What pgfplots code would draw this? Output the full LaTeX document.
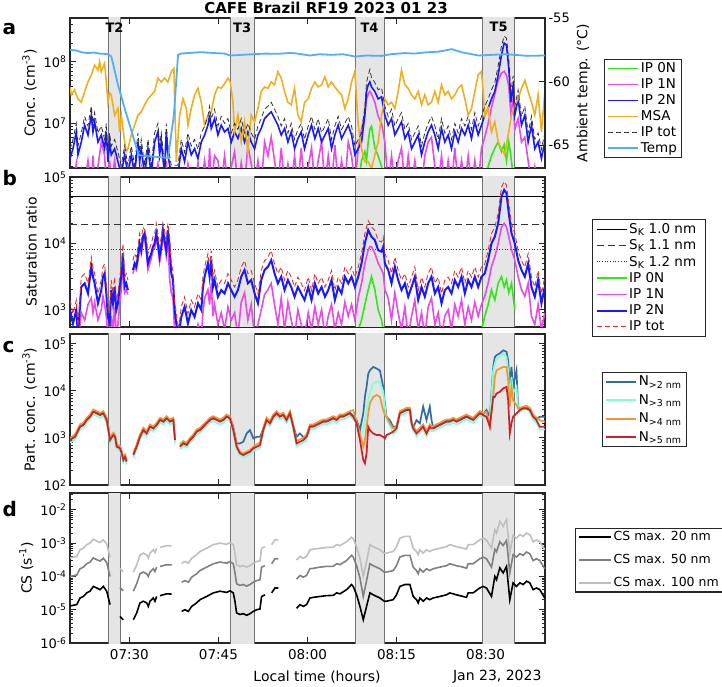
\documentclass[border=0pt]{standalone}
\usepackage{fontspec}
\setmainfont{DejaVu Sans}
\usepackage{pgfplots}
\usepackage{pgfplotstable}
\pgfplotsset{compat=1.18}

\definecolor{cip0}{rgb}{0.2,0.9,0.1}
\definecolor{cip1}{rgb}{0.9,0.3,0.9}
\definecolor{cip2}{rgb}{0.1,0.1,1.0}
\definecolor{cmsa}{rgb}{0.93,0.69,0.13}
\definecolor{ctemp}{rgb}{0.33,0.68,0.98}
\definecolor{ctotb}{rgb}{0.85,0.2,0.2}
\definecolor{cn2}{rgb}{0.2,0.42,0.65}
\definecolor{cn3}{rgb}{0.5,1.0,0.85}
\definecolor{cn4}{rgb}{0.93,0.6,0.2}
\definecolor{cn5}{rgb}{0.8,0.13,0.17}
\definecolor{shadefill}{rgb}{0.9,0.9,0.9}
\definecolor{shadeedge}{rgb}{0.45,0.45,0.45}

\newcommand{\tickfont}{\fontsize{13}{14}\selectfont}
\newcommand{\labfont}{\fontsize{14}{16}\selectfont}
\newcommand{\legfont}{\fontsize{13.5}{15}\selectfont}
\newcommand{\lb}[1]{\makebox[72pt][l]{#1}}

\newcommand{\shadeband}[4]{%
  \addplot[fill=shadefill, draw=none, forget plot] coordinates {(#1,#3) (#2,#3) (#2,#4) (#1,#4)};
  \addplot[shadeedge, line width=0.8pt, forget plot] coordinates {(#1,#3) (#1,#4)};
  \addplot[shadeedge, line width=0.8pt, forget plot] coordinates {(#2,#3) (#2,#4)};
}
\newcommand{\allbands}[2]{%
  \shadeband{26.45}{28.5}{#1}{#2}
  \shadeband{47.05}{51.0}{#1}{#2}
  \shadeband{68.0}{72.9}{#1}{#2}
  \shadeband{89.5}{94.9}{#1}{#2}
}

\pgfplotsset{
  /pgfplots/logtick/.style={
    /pgfplots/log number format basis/.code 2 args={##1\textsuperscript{\pgfmathprintnumber[assume math mode=true]{##2}}},
  },
  /pgfplots/mypanel/.style={
    width=475pt, height=150pt, scale only axis,
    xmin=20, xmax=100, xtick={30,45,60,75,90},
    tick align=inside,
    major tick length=6pt, minor tick length=3pt,
    axis line style={line width=1.1pt, black!85},
    every tick/.style={black!85, line width=0.8pt},
    tick label style={font=\tickfont},
    label style={font=\labfont},
    unbounded coords=jump,
    legend cell align=left,
    legend style={font=\legfont, draw=black!85, line width=1.1pt, anchor=west,
      inner xsep=3pt, inner ysep=2pt, row sep=1.3pt, nodes={inner sep=1.6pt}},
    legend image code/.code={\draw[##1] (0pt,0pt) -- (30pt,0pt);},
    xticklabels={},
  },
}

% ---------------- panel a data ----------------
\pgfplotstableread{
t ip2 tot ip1 ip0
20.0 2.7e6 3.8e6 1e6 nan
20.5 3.9e6 5.5e6 1e6 nan
21.06 7.3e6 1.0e7 2.2e6 nan
21.34 3.1e6 4.3e6 1e6 nan
21.9 5.0e6 7.0e6 1.8e6 nan
22.47 9.4e6 1.3e7 1e6 nan
23.03 6.5e6 9.1e6 2.5e6 nan
23.59 1.36e7 1.9e7 1e6 nan
23.87 7.3e6 1.0e7 3e6 nan
24.15 1.06e7 1.5e7 1e6 nan
24.71 5.0e6 7.0e6 2e6 nan
25.27 6.5e6 9.1e6 5e6 nan
25.83 3.9e6 5.5e6 3e6 nan
26.11 7.3e6 1.0e7 1e6 nan
26.39 2.4e6 3.4e6 1e6 nan
26.67 5.0e6 7.0e6 2.5e6 nan
26.95 3.1e6 4.3e6 1e6 nan
27.52 3.9e6 5.5e6 2.5e6 nan
28.08 2.4e6 3.4e6 1e6 nan
28.64 1.5e6 2.1e6 1e6 nan
29.2 3.1e6 4.3e6 1e6 nan
29.76 1.5e6 2.1e6 1e6 nan
30.32 3.1e6 4.3e6 1e6 nan
30.88 1.5e6 2.1e6 1e6 nan
31.44 5.0e6 7.0e6 1e6 nan
31.73 2.4e6 3.4e6 1e6 nan
32.0 3.9e6 5.5e6 2e6 nan
32.57 1.5e6 2.1e6 1e6 nan
33.13 3.9e6 5.5e6 1e6 nan
33.69 1.5e6 2.1e6 1e6 nan
34.25 5.0e6 7.0e6 1e6 nan
34.81 7.3e6 1.0e7 2.2e6 nan
35.09 3.1e6 4.3e6 1e6 nan
35.37 5.0e6 7.0e6 1e6 nan
35.93 1.5e6 2.1e6 1e6 nan
36.21 7.3e6 1.0e7 2.5e6 nan
36.49 3.1e6 4.3e6 1e6 nan
37.06 1.5e6 2.1e6 1e6 nan
38.18 1.5e6 2.1e6 1e6 nan
38.74 3.9e6 5.5e6 1e6 nan
39.3 2.4e6 3.4e6 1e6 nan
39.86 5.0e6 7.0e6 2.2e6 nan
40.42 3.1e6 4.3e6 1e6 nan
40.98 3.9e6 5.5e6 1e6 nan
41.55 2.7e6 3.8e6 2.3e6 nan
42.11 5.0e6 7.0e6 1e6 nan
42.67 6.5e6 9.1e6 2.5e6 nan
43.23 9.4e6 1.3e7 1e6 nan
43.51 1.36e7 1.9e7 4e6 nan
43.79 8.3e6 1.2e7 1e6 nan
44.35 1.2e7 1.7e7 3e6 nan
44.91 6.5e6 9.1e6 2.5e6 nan
45.47 9.4e6 1.3e7 1e6 nan
46.03 7.3e6 1.0e7 3e6 nan
46.6 8.3e6 1.2e7 1e6 nan
47.16 5.0e6 7.0e6 2e6 nan
47.72 7.3e6 1.0e7 3.5e6 nan
48.28 5.7e6 8.0e6 1e6 nan
48.84 8.3e6 1.2e7 2.3e6 nan
49.4 5.0e6 7.0e6 1e6 nan
49.96 7.3e6 1.0e7 4.5e6 nan
50.52 5.0e6 7.0e6 2.2e6 nan
51.09 3.9e6 5.5e6 1e6 nan
51.65 6.5e6 9.1e6 2.5e6 nan
52.21 8.3e6 1.2e7 1e6 nan
52.77 1.2e7 1.7e7 5e6 nan
53.33 1.36e7 1.9e7 3e6 nan
53.89 1.54e7 2.2e7 6e6 nan
54.45 1.2e7 1.7e7 2.5e6 nan
55.01 9.4e6 1.3e7 1e6 nan
55.58 6.5e6 9.1e6 4e6 nan
56.14 8.3e6 1.2e7 1e6 nan
56.7 5.0e6 7.0e6 2.2e6 nan
57.26 7.3e6 1.0e7 1e6 nan
57.82 3.9e6 5.5e6 3e6 nan
58.38 5.7e6 8.0e6 1e6 nan
58.94 7.3e6 1.0e7 4e6 nan
59.5 3.9e6 5.5e6 1e6 nan
60.12 6.5e6 9.1e6 2e6 nan
60.68 9.4e6 1.3e7 4e6 nan
61.24 5.7e6 8.0e6 1e6 nan
61.8 8.3e6 1.2e7 2.5e6 nan
62.37 5.0e6 7.0e6 5e6 nan
62.93 6.5e6 9.1e6 1e6 nan
63.49 8.3e6 1.2e7 3e6 nan
64.05 3.9e6 5.5e6 1e6 nan
64.61 6.5e6 9.1e6 4.5e6 nan
65.17 9.4e6 1.3e7 1e6 nan
65.73 5.7e6 8.0e6 2.5e6 nan
66.29 7.3e6 1.0e7 1e6 nan
66.86 9.4e6 1.3e7 5e6 nan
67.42 6.5e6 9.1e6 3e6 nan
67.98 3.1e6 4.3e6 1e6 nan
68.54 3.9e6 5.5e6 4e6 1e6
69.1 5.0e6 7.0e6 8e6 2.5e6
69.66 1.36e7 1.9e7 1.5e7 3.5e6
69.94 3.3e7 4.6e7 2.5e7 2.5e6
70.22 4.2e7 6.0e7 3e7 5e6
70.5 4.7e7 7.5e7 3.3e7 8e6
70.78 3.9e7 5.5e7 3e7 9e6
71.34 3.3e7 4.6e7 2.2e7 4e6
71.9 2.5e7 3.5e7 1.3e7 3e6
72.47 2.7e7 3.8e7 1.0e7 2e6
73.03 1.36e7 1.9e7 5e6 1e6
73.59 9.4e6 1.3e7 1e6 nan
74.15 1.2e7 1.7e7 3e6 nan
74.71 6.5e6 9.1e6 1e6 nan
75.27 8.3e6 1.2e7 2.5e6 nan
75.83 1.06e7 1.5e7 4e6 nan
76.4 5.7e6 8.0e6 1e6 nan
76.96 7.3e6 1.0e7 3e6 nan
77.52 3.9e6 5.5e6 1e6 nan
78.08 5.0e6 7.0e6 2.5e6 nan
78.64 6.5e6 9.1e6 1e6 nan
79.2 3.1e6 4.3e6 1e6 nan
79.76 5.0e6 7.0e6 3e6 nan
80.32 7.3e6 1.0e7 5e6 nan
80.88 9.4e6 1.3e7 6e6 nan
81.45 6.5e6 9.1e6 2e6 nan
82.01 3.9e6 5.5e6 1e6 nan
82.57 8.3e6 1.2e7 3e6 nan
83.13 5.0e6 7.0e6 1e6 nan
83.69 6.5e6 9.1e6 2.5e6 nan
84.25 3.9e6 5.5e6 1e6 nan
84.81 7.3e6 1.0e7 4e6 nan
85.37 5.0e6 7.0e6 1e6 nan
85.94 8.3e6 1.2e7 2.5e6 nan
86.5 6.5e6 9.1e6 1e6 nan
87.06 9.4e6 1.3e7 3e6 nan
87.62 5.7e6 8.0e6 1e6 nan
88.18 1.06e7 1.5e7 2.5e6 nan
88.74 6.5e6 9.1e6 1e6 nan
89.3 9.4e6 1.3e7 4e6 nan
89.86 1.36e7 1.9e7 6e6 1e6
90.42 1.75e7 2.5e7 1.0e7 2e6
90.99 2.5e7 3.5e7 1.8e7 3e6
91.55 3.3e7 4.6e7 3.0e7 4e6
92.11 6.1e7 8.5e7 5e7 5e6
92.67 1.28e8 1.8e8 6.5e7 3.5e6
93.12 2.0e8 2.6e8 7e7 4.5e6
93.51 1.86e8 2.4e8 6e7 2.5e6
93.9 7.8e7 1.1e8 4e7 5e6
94.24 2.2e7 3.1e7 1.5e7 3e6
94.63 4.2e7 5.9e7 2.5e7 1.5e6
94.91 1.36e7 1.9e7 8e6 1e6
95.47 2.5e7 3.5e7 1.2e7 nan
96.04 9.4e6 1.3e7 5e6 nan
96.6 1.36e7 1.9e7 6e6 nan
97.16 5.0e6 7.0e6 2.5e6 nan
97.72 9.4e6 1.3e7 1e6 nan
98.28 3.9e6 5.5e6 2e6 nan
98.84 5.0e6 7.0e6 1e6 nan
99.4 2.7e6 3.8e6 1e6 nan
99.96 5.0e6 7.0e6 2e6 nan
}\tbla

\pgfplotstableread{
t msa
20.0 3.9e7
20.22 2.9e7
20.78 3.5e7
21.34 2.5e7
21.9 2.2e7
22.47 3.3e7
23.03 4.7e7
23.59 6.1e7
24.15 8.8e7
24.71 7.3e7
24.99 1.0e8
25.27 6.9e7
25.83 9.4e7
26.11 4.7e7
26.39 2.2e7
26.67 3.1e7
26.95 2.9e7
27.52 1.36e7
28.08 1.75e7
28.36 7.3e6
28.64 1.36e7
29.2 5.0e6
29.48 3.5e6
29.76 3.9e6
30.32 6.5e6
30.88 9.4e6
31.44 1.36e7
32.0 1.54e7
32.57 2.0e7
33.13 2.5e7
33.69 2.9e7
34.25 3.3e7
34.81 5.4e7
35.37 4.7e7
35.93 5.4e7
36.49 4.7e7
37.06 6.9e7
37.5 7.8e7
37.9 2.4e6
38.46 1.36e7
39.02 2.5e7
39.58 1.75e7
39.86 9.4e6
40.42 1.75e7
40.98 2.9e7
41.55 3.7e7
42.11 2.2e7
42.67 9.4e6
43.23 1.36e7
43.79 1.54e7
44.35 2.9e7
44.91 3.9e7
45.47 3.7e7
46.03 4.4e7
46.6 5.4e7
46.99 4.7e7
47.44 2.2e7
47.72 7.3e6
48.28 1.36e7
48.84 5.0e6
49.4 1.06e7
49.96 3.5e6
50.52 1.36e7
51.09 1.06e7
51.65 1.75e7
52.21 3.3e7
52.77 3.9e7
53.33 3.7e7
53.89 4.7e7
54.45 4.2e7
55.01 6.9e7
55.58 5.4e7
56.14 3.3e7
56.7 2.2e7
57.26 2.0e7
57.82 3.7e7
58.38 1.36e7
58.94 1.06e7
59.5 2.2e7
60.12 2.5e7
60.68 3.7e7
61.24 4.7e7
61.8 3.9e7
62.37 4.2e7
62.93 5.7e7
63.49 3.9e7
64.05 4.7e7
64.61 3.9e7
65.17 3.3e7
65.73 2.9e7
66.29 1.75e7
66.86 2.5e7
67.42 4.7e7
67.98 6.9e7
68.26 2.5e7
68.54 9.4e6
69.1 3.9e6
69.66 2.4e6
70.22 2.4e6
70.78 1.86e6
71.34 3.1e6
71.9 5.0e6
72.47 1.36e7
73.03 2.5e7
73.59 2.0e7
74.15 2.2e7
74.71 1.75e7
75.27 3.3e7
75.83 7.3e7
76.4 4.2e7
76.96 3.7e7
77.52 2.9e7
78.08 2.5e7
78.64 3.3e7
79.2 2.0e7
79.76 2.9e7
80.32 2.0e7
80.88 2.2e7
81.45 3.3e7
82.01 2.2e7
82.57 4.2e7
83.13 2.9e7
83.69 3.3e7
84.25 2.5e7
84.81 2.9e7
85.37 3.7e7
85.94 4.2e7
86.5 2.5e7
87.06 1.36e7
87.62 1.75e7
88.18 3.3e7
88.74 6.1e7
89.3 6.9e7
89.58 3.3e7
89.86 1.36e7
90.42 1.75e7
90.99 7.3e6
91.55 1.06e7
92.11 5.0e6
92.67 3.9e6
93.23 3.1e6
93.79 6.5e6
94.36 1.36e7
94.91 2.0e7
95.47 2.5e7
96.04 3.7e7
96.6 5.0e7
97.16 3.3e7
97.72 2.2e7
98.28 1.36e7
98.84 2.9e7
99.4 7.3e6
99.96 3.1e7
}\tblmsa

\pgfplotstableread{
t temp
20.0 -57.50
21.0 -57.55
22.0 -57.70
23.0 -57.76
24.0 -57.72
25.0 -57.80
26.4 -57.84
26.96 -58.03
28.08 -60.26
29.2 -62.10
30.9 -64.74
31.6 -65.79
33.1 -65.87
36.5 -66.00
37.5 -62.63
38.2 -57.90
38.7 -57.80
40.0 -57.75
42.1 -57.69
44.0 -57.75
46.0 -57.80
47.0 -57.95
49.0 -57.90
51.1 -57.84
53.0 -57.80
55.0 -57.82
57.0 -57.75
58.0 -57.78
60.4 -57.95
62.0 -57.85
64.0 -57.90
66.0 -57.85
68.0 -58.03
70.0 -57.95
72.5 -57.98
74.0 -57.85
76.4 -57.76
78.0 -57.80
80.0 -57.70
82.0 -57.65
84.3 -57.45
86.0 -57.70
88.8 -57.95
91.0 -57.90
93.3 -57.85
95.0 -57.90
97.0 -57.98
100.0 -57.95
}\tbltemp

% ---------------- panel b data ----------------
\pgfplotstableread{
t ip2 tot ip1 ip0
20.0 990 1400 400 nan
20.5 620 870 400 nan
21.06 990 1400 500 nan
21.34 400 560 300 nan
21.9 2200 3100 900 nan
22.47 2500 3500 700 nan
23.03 1760 2500 1200 nan
23.59 4450 6200 1500 nan
23.87 3150 4400 900 nan
24.15 2500 3500 1300 nan
24.71 1250 1750 700 nan
25.27 1980 2800 1000 nan
25.55 3150 4400 1600 nan
25.83 3530 4900 1200 nan
26.11 1760 2500 800 nan
26.39 780 1100 400 nan
26.67 620 870 300 nan
26.95 1980 2800 800 nan
27.24 1250 1750 500 nan
27.52 2200 3100 1100 nan
27.8 990 1400 400 nan
28.08 1250 1750 600 nan
28.36 2200 3100 1200 nan
28.64 3150 4400 2000 nan
28.92 7100 9900 5000 nan
29.2 2200 3100 1800 nan
29.48 2500 3500 2000 nan
29.76 1980 2800 1700 nan
30.21 nan nan nan nan
30.6 3970 5500 3500 nan
30.88 5000 7000 4500 nan
31.16 4450 6200 4000 nan
31.44 6300 8800 5500 nan
31.73 10000 14000 9000 nan
32.0 7900 11000 7000 nan
32.29 12600 17600 11000 nan
32.57 14200 16000 12500 nan
32.85 8900 12500 7500 nan
33.13 5000 7000 4000 nan
33.69 7100 9900 6000 nan
33.97 8900 12500 7800 nan
34.25 10000 14000 8500 nan
34.53 14200 20000 12000 nan
34.81 10000 14000 8500 nan
35.09 6300 8800 5200 nan
35.37 8900 12500 7500 nan
35.65 15900 20000 13500 nan
35.93 11200 15700 9500 nan
36.21 7900 11000 6500 nan
36.49 15900 20000 13000 nan
36.77 8900 12500 3000 nan
37.06 3530 4900 1800 nan
37.34 2800 3900 1500 nan
37.62 990 1400 500 nan
37.9 620 870 300 nan
38.29 400 500 300 nan
38.74 780 1100 400 nan
39.3 1110 1550 500 nan
39.86 620 870 300 nan
40.42 990 1400 450 nan
40.98 780 1100 350 nan
41.55 1250 1750 600 nan
42.11 990 1400 400 nan
42.39 2200 3100 900 nan
42.67 3150 4400 1500 nan
43.23 5000 7000 2000 nan
43.51 3150 4400 1200 nan
43.79 5600 7800 2500 nan
44.07 2200 3100 800 nan
44.35 2800 3900 1200 nan
44.91 1570 2200 600 nan
45.47 1980 2800 900 nan
46.03 1760 2500 500 nan
46.6 2500 3500 1100 nan
47.16 1980 2800 700 nan
47.72 1570 2200 900 nan
48.28 1980 2800 400 nan
48.84 3150 4400 1300 nan
49.4 3970 5500 1800 nan
49.96 2500 3500 700 nan
50.52 2800 3900 1200 nan
51.09 1760 2500 400 nan
51.65 1250 1750 600 nan
52.21 2800 3900 1000 nan
52.77 3970 5500 1700 nan
53.33 4450 6200 2000 nan
53.89 5600 7800 2500 nan
54.45 3530 4900 1200 nan
55.01 2500 3500 600 nan
55.58 3150 4400 1500 nan
56.14 1980 2800 500 nan
56.7 2800 3900 1300 nan
57.26 2200 3100 700 nan
57.82 1570 2200 400 nan
58.38 2200 3100 1000 nan
58.94 1760 2500 600 nan
59.5 1400 1950 400 nan
60.12 2200 3100 900 nan
60.68 1400 1950 500 nan
61.24 2500 3500 1100 nan
61.8 1760 2500 600 nan
62.37 2200 3100 1000 nan
62.93 1570 2200 400 nan
63.49 1980 2800 800 nan
64.05 2800 3900 1200 nan
64.61 1400 1950 500 nan
65.17 2200 3100 900 nan
65.73 1760 2500 600 nan
66.29 3150 4400 1300 nan
66.86 2500 3500 800 nan
67.42 3150 4400 1200 nan
67.98 2200 3100 700 nan
68.54 3150 4400 1500 500
69.1 5000 7000 2500 700
69.66 10000 14000 5000 1200
70.22 15900 22000 7900 2000
70.5 14200 20000 8900 2500
70.78 12600 17600 8900 3150
71.34 11200 15700 7100 2000
71.9 7900 11000 5000 1000
72.47 7500 10500 4000 700
72.75 8900 12500 3500 500
73.03 5000 7000 2000 nan
73.59 3970 5500 1500 nan
74.15 2500 3500 700 nan
74.71 4450 6200 1800 nan
75.27 2800 3900 900 nan
75.83 1980 2800 500 nan
76.4 2500 3500 1100 nan
76.96 1570 2200 400 nan
77.52 2200 3100 800 nan
78.08 3150 4400 1400 nan
78.64 1400 1950 500 nan
79.2 2200 3100 900 nan
79.76 1570 2200 400 nan
80.32 2500 3500 1100 nan
80.88 3150 4400 1500 nan
81.45 1760 2500 600 nan
82.01 2200 3100 900 nan
82.57 1250 1750 400 nan
83.13 1980 2800 800 nan
83.69 2200 3100 1000 nan
84.25 1760 2500 500 nan
84.81 2800 3900 1200 nan
85.37 2200 3100 800 nan
85.94 3150 4400 1400 nan
86.5 1760 2500 600 nan
87.06 2800 3900 1100 nan
87.62 2200 3100 700 nan
88.18 3150 4400 1300 nan
88.74 2200 3100 800 nan
89.3 3150 4400 1200 500
89.86 3530 4900 1600 800
90.42 5600 7800 2500 1200
90.99 10000 14000 4500 2000
91.55 12600 17600 6300 1400
92.11 20000 28000 10000 2500
92.67 50600 70000 17600 3150
93.12 64000 85000 20000 2200
93.51 57000 75000 17600 2800
93.9 28300 40000 12600 1800
94.36 14200 20000 8000 2500
94.91 10000 14000 5600 1000
95.47 5600 7800 3150 nan
96.04 3970 5500 2000 nan
96.6 3150 4400 1600 nan
97.16 5000 7000 2500 nan
97.72 2200 3100 800 nan
98.28 1570 2200 600 nan
98.84 2800 3900 1200 nan
99.4 1250 1750 500 nan
99.96 2200 3100 900 nan
}\tblb

% ---------------- panel c data ----------------
\pgfplotstableread{
t n2 n3 n4 n5
20.0 940 790 1000 898
20.85 1100 920 1180 1050
21.69 1800 1510 1930 1720
22.25 1960 1650 2090 1870
22.81 2500 2090 2670 2380
23.37 2940 2460 3140 2800
23.93 3760 3150 4000 3580
24.49 3460 2900 3700 3300
25.06 3190 2680 3400 3040
25.62 3460 2900 3700 3300
26.18 2500 2090 2670 2380
26.46 1530 1280 1640 1460
26.74 940 790 1000 898
27.3 1210 1010 1290 1150
27.58 1100 920 1180 1050
27.86 680 570 730 648
28.42 630 530 670 598
28.7 490 410 525 469
28.98 356 300 380 339
29.26 418 350 445 398
29.54 328 275 350 312
29.9 nan nan nan nan
30.67 454 380 484 432
31.23 680 570 730 648
31.79 1100 920 1180 1050
32.35 1530 1280 1640 1460
32.91 1300 1090 1390 1240
33.47 1800 1510 1930 1720
34.03 1660 1390 1770 1580
34.6 1960 1650 2090 1870
35.16 2500 2090 2670 2380
35.72 2310 1940 2460 2200
36.28 2710 2270 2890 2580
36.84 2310 1940 2460 2200
37.4 2500 2090 2670 2380
37.68 940 790 1000 898
38.0 nan nan nan nan
38.52 680 570 730 648
39.08 800 670 855 763
39.65 740 620 790 703
40.21 940 790 1000 898
40.77 1100 920 1180 1050
41.33 1420 1190 1510 1350
41.89 1530 1280 1640 1460
42.45 1800 1510 1930 1720
43.01 2130 1790 2270 2030
43.57 2500 2090 2670 2380
44.14 2710 2270 2890 2580
44.7 2500 2090 2670 2380
45.26 2310 1940 2460 2200
45.82 2500 2090 2670 2380
46.38 2940 2460 3140 2800
46.94 2710 2270 2890 2580
47.5 1720 1280 1640 1460
48.06 763 570 703 648
48.63 763 432 508 469
49.19 828 380 469 432
49.75 1240 410 508 469
50.31 1460 447 551 508
50.87 973 526 648 598
51.43 1050 570 730 648
51.99 1050 620 790 703
52.55 1530 1280 1640 1460
53.11 2500 2090 2670 2380
53.68 2130 1790 2270 2030
54.24 2940 2460 3140 2800
54.8 3460 2900 3700 3300
55.36 2940 2460 3140 2800
55.92 3190 2680 3400 3040
56.48 2500 2090 2670 2380
57.04 3460 2900 3700 3300
57.6 1800 1510 1930 1720
58.16 1050 670 855 763
58.73 1240 730 930 828
59.29 1050 790 1000 898
59.85 1100 920 1180 1050
60.41 1800 1510 1930 1720
60.97 1800 1510 1930 1720
61.53 1960 1650 2090 1870
62.09 2130 1790 2270 2030
62.65 2310 1940 2460 2200
63.21 2310 1940 2460 2200
63.78 2500 2090 2670 2380
64.34 2710 2270 2890 2580
64.9 2500 2090 2670 2380
65.46 2940 2460 3140 2800
66.02 2940 2460 3140 2800
66.58 3190 2680 3400 3040
67.14 3460 2900 3700 3300
67.7 2940 2460 3900 2800
68.27 2380 2030 2200 2030
68.83 1460 1050 1240 898
69.39 3300 1460 648 339
69.67 7400 2380 898 288
69.95 12100 3900 1720 469
70.23 23000 6300 3300 1720
70.51 27000 8700 5400 1460
71.07 32000 14300 7400 1240
71.63 29600 15500 8100 1150
72.19 27000 15500 7400 1150
72.75 12100 9500 3900 1050
73.03 5400 4600 3040 973
73.31 2800 2380 2800 1150
73.87 2380 1870 2030 1240
74.43 1720 1190 1580 1350
74.99 1720 1390 1720 1580
75.55 3460 2900 3700 3300
76.12 3760 3150 4000 3580
76.68 4100 3430 4370 3900
77.24 4100 3430 4370 3900
77.52 2130 1790 2270 2030
77.8 1660 1390 1770 1580
78.36 2380 1090 1390 1240
78.92 2030 1280 1640 1460
79.48 4600 1510 1930 1720
80.04 2380 1090 1390 1240
80.6 4600 1510 1930 1720
80.89 2380 1390 1770 1580
81.17 1660 1390 1770 1580
81.73 1800 1510 1930 1720
82.29 1960 1650 2090 1870
82.85 2130 1790 2270 2030
83.41 2310 1940 2460 2200
83.97 2310 1940 2460 2200
84.53 2500 2090 2670 2380
85.09 2310 1940 2460 2200
85.66 2500 2090 2670 2380
86.22 2710 2270 2890 2580
86.78 2940 2460 3140 2800
87.34 2710 2270 2890 2580
87.9 2500 2090 2670 2380
88.46 2940 2460 3140 2800
89.02 3460 2900 3700 3300
89.58 3190 2680 3400 3040
90.14 3900 2600 3580 2800
90.71 2800 2380 1720 1720
91.27 32000 27000 7400 7400
91.55 52000 38000 19700 7400
91.83 57000 48000 27000 8700
92.39 62000 52000 29600 9500
92.96 72000 62000 32000 11200
93.52 67000 52000 32000 12100
93.79 44000 27000 16800 6300
94.07 12100 6300 4600 1240
94.35 32000 19700 12100 2030
94.63 12100 8700 6300 2800
95.19 27000 12100 5000 3300
95.47 4600 4200 4200 3580
95.76 4200 3600 4300 3900
96.32 4400 3900 4600 4200
96.88 4600 4200 4800 4200
97.44 4100 3430 4370 3900
98.0 2940 2460 3140 2800
98.56 2500 2090 2670 2380
99.12 2800 1510 2380 1720
99.96 2800 1510 2200 1720
}\tblc

% ---------------- panel d data ----------------
\pgfplotstableread{
t cs20 cs50 cs100
20.0 1.3e-5 1.0e-4 3.6e-4
21.13 1.42e-5 1.1e-4 4.0e-4
21.69 2.25e-5 1.7e-4 6.3e-4
22.25 2.5e-5 1.9e-4 7.0e-4
22.81 3.2e-5 2.4e-4 9.0e-4
23.37 3.6e-5 2.7e-4 1.0e-3
23.93 5.0e-5 3.6e-4 1.3e-3
24.49 4.5e-5 3.2e-4 1.15e-3
25.06 4.0e-5 2.9e-4 1.05e-3
25.62 5.0e-5 3.5e-4 1.25e-3
26.18 3.6e-5 2.6e-4 9.5e-4
26.74 1.42e-5 1.0e-4 3.8e-4
27.3 nan nan nan
28.42 6.3e-6 4.6e-5 1.7e-4
28.98 5.0e-6 3.7e-5 1.4e-4
29.6 nan nan nan
30.67 5.0e-6 3.6e-5 1.35e-4
31.23 8.0e-6 6.0e-5 2.2e-4
31.79 1.6e-5 1.2e-4 4.4e-4
32.35 1.8e-5 1.35e-4 5.0e-4
32.91 1.6e-5 1.2e-4 4.4e-4
33.19 1.26e-5 1.0e-4 3.6e-4
33.47 1.8e-5 1.35e-4 5.0e-4
34.03 2.25e-5 1.7e-4 6.3e-4
34.31 1.8e-5 1.4e-4 5.2e-4
34.6 2.5e-5 1.9e-4 7.0e-4
34.88 nan nan nan
35.16 2.65e-5 2.0e-4 7.4e-4
36.28 3.0e-5 2.25e-4 8.4e-4
37.12 2.95e-5 2.2e-4 8.3e-4
37.9 nan nan nan
38.8 8.9e-6 6.7e-5 2.5e-4
39.36 1.0e-5 7.5e-5 2.8e-4
39.93 8.9e-6 6.7e-5 2.5e-4
40.49 1.26e-5 9.5e-5 3.5e-4
41.33 1.6e-5 1.2e-4 4.5e-4
41.89 2.0e-5 1.5e-4 5.6e-4
43.01 2.5e-5 1.9e-4 7.0e-4
44.14 3.2e-5 2.4e-4 9.0e-4
45.26 3.6e-5 2.7e-4 1.0e-3
46.38 3.3e-5 2.5e-4 9.2e-4
46.94 3.7e-5 2.8e-4 1.04e-3
47.5 3.2e-5 2.4e-4 9.0e-4
47.78 1.8e-5 1.3e-4 5.0e-4
48.06 8.0e-6 6.0e-5 2.2e-4
48.63 7.2e-6 5.4e-5 2.0e-4
49.19 7.6e-6 5.7e-5 2.1e-4
49.75 6.8e-6 5.1e-5 1.9e-4
50.31 7.6e-6 5.7e-5 2.1e-4
50.87 8.9e-6 6.7e-5 2.5e-4
51.43 1.0e-5 7.5e-5 2.8e-4
51.99 1.05e-5 7.9e-5 2.9e-4
52.27 2.5e-5 1.9e-4 7.0e-4
52.83 2.8e-5 2.1e-4 7.8e-4
53.4 nan nan nan
53.96 3.2e-5 2.4e-4 9.0e-4
54.52 4.5e-5 3.4e-4 1.25e-3
55.08 4.5e-5 3.4e-4 1.25e-3
55.6 nan nan nan
58.16 1.1e-5 8.3e-5 3.1e-4
58.73 1.42e-5 1.07e-4 4.0e-4
59.29 1.26e-5 9.5e-5 3.5e-4
59.85 1.42e-5 1.07e-4 4.0e-4
60.41 2.25e-5 1.7e-4 6.3e-4
60.97 2.35e-5 1.75e-4 6.6e-4
62.09 2.5e-5 1.9e-4 7.0e-4
63.21 2.65e-5 2.0e-4 7.4e-4
64.34 2.7e-5 2.0e-4 7.6e-4
64.9 3.2e-5 2.4e-4 9.0e-4
65.46 3.0e-5 2.25e-4 8.4e-4
66.58 4.0e-5 3.0e-4 1.1e-3
67.42 5.7e-5 4.3e-4 1.5e-3
67.7 5.0e-5 3.8e-4 1.35e-3
68.27 2.8e-5 2.1e-4 7.8e-4
68.83 1.26e-5 9.0e-5 3.5e-4
69.39 5.0e-6 2.5e-5 1.0e-4
69.95 1.26e-5 7.5e-5 2.8e-4
70.51 3.2e-5 2.4e-4 9.0e-4
71.07 2.8e-5 2.1e-4 7.8e-4
72.19 2.25e-5 1.7e-4 6.3e-4
72.92 1.8e-5 1.35e-4 5.0e-4
73.31 1.8e-5 1.35e-4 5.0e-4
74.43 2.0e-5 1.5e-4 5.6e-4
74.99 2.8e-5 2.1e-4 7.8e-4
75.55 5.0e-5 3.8e-4 1.4e-3
76.4 5.7e-5 4.3e-4 1.6e-3
77.24 5.7e-5 4.3e-4 1.6e-3
77.8 2.5e-5 1.9e-4 7.0e-4
78.36 2.0e-5 1.5e-4 5.6e-4
78.64 1.6e-5 1.2e-4 4.5e-4
78.92 2.25e-5 1.7e-4 6.3e-4
79.48 1.8e-5 1.35e-4 5.0e-4
80.04 2.25e-5 1.7e-4 6.3e-4
80.6 2.0e-5 1.5e-4 5.6e-4
81.17 2.25e-5 1.7e-4 6.3e-4
82.29 2.5e-5 1.9e-4 7.0e-4
83.41 2.8e-5 2.1e-4 7.8e-4
83.97 3.2e-5 2.4e-4 9.0e-4
85.09 2.8e-5 2.1e-4 7.8e-4
86.22 2.5e-5 1.9e-4 7.0e-4
86.78 2.35e-5 1.75e-4 6.6e-4
87.06 3.2e-5 2.4e-4 9.0e-4
87.9 3.2e-5 2.4e-4 9.0e-4
89.02 4.5e-5 3.4e-4 1.25e-3
89.58 5.0e-5 3.8e-4 1.4e-3
90.14 4.5e-5 3.4e-4 1.25e-3
90.99 2.5e-5 1.9e-4 7.0e-4
91.55 1.0e-4 6.5e-4 2.5e-3
91.83 8.0e-5 5.5e-4 2.0e-3
92.39 1.8e-4 1.1e-3 4.5e-3
92.96 1.27e-4 8.5e-4 3.2e-3
93.52 2.0e-4 1.2e-3 5.1e-3
94.07 2.0e-5 1.3e-4 5.0e-4
94.63 6.4e-5 4.5e-4 1.7e-3
95.19 5.0e-5 3.8e-4 1.4e-3
95.76 6.4e-5 4.8e-4 1.8e-3
96.32 5.7e-5 4.3e-4 1.6e-3
96.88 7.2e-5 5.4e-4 2.0e-3
97.44 6.4e-5 4.8e-4 1.8e-3
98.0 4.0e-5 3.0e-4 1.1e-3
98.56 4.5e-5 3.4e-4 1.25e-3
99.12 4.0e-5 3.0e-4 1.1e-3
99.96 2.25e-5 1.7e-4 6.3e-4
}\tbld

\begin{document}
\begin{tikzpicture}
\useasboundingbox (0pt,0pt) rectangle (722pt,686pt);

% ===== Panel a =====
\begin{axis}[ymode=log, mypanel, logtick, at={(70pt,518pt)}, anchor=south west,
  ymin=1.9e6, ymax=5.1e8, ytick pos=left,
  ylabel={Conc. (cm\textsuperscript{-3})},
  legend style={at={(1.124,0.397)}},
]
\allbands{1e5}{1e10}
\addplot[cip0, line width=1.6pt] table[x=t,y=ip0] {\tbla};
\addlegendentry{IP 0N}
\addplot[cip1, line width=1.6pt] table[x=t,y=ip1] {\tbla};
\addlegendentry{IP 1N}
\addplot[cip2, line width=1.6pt] table[x=t,y=ip2] {\tbla};
\addlegendentry{IP 2N}
\addplot[cmsa, line width=1.6pt] table[x=t,y=msa] {\tblmsa};
\addlegendentry{MSA}
\addplot[black!80, line width=0.8pt, dash pattern=on 5pt off 3pt] table[x=t,y=tot] {\tbla};
\addlegendentry{IP tot}
\addlegendimage{ctemp, line width=1.8pt}
\addlegendentry{Temp}
\node[font=\bfseries\fontsize{13}{14}\selectfont] at (axis cs:27.5,3.6e8) {T2};
\node[font=\bfseries\fontsize{13}{14}\selectfont] at (axis cs:49.0,3.6e8) {T3};
\node[font=\bfseries\fontsize{13}{14}\selectfont] at (axis cs:70.45,3.6e8) {T4};
\node[font=\bfseries\fontsize{13}{14}\selectfont] at (axis cs:92.2,3.6e8) {T5};
\end{axis}

\begin{axis}[at={(70pt,518pt)}, anchor=south west,
  width=475pt, height=150pt, scale only axis,
  xmin=20, xmax=100, ymin=-66.8, ymax=-55,
  hide x axis, axis y line*=right,
  ytick={-65,-60,-55},
  tick align=inside, major tick length=6pt,
  axis line style={line width=1.1pt, black!85},
  every tick/.style={black!85, line width=0.8pt},
  yticklabel style={font=\tickfont, /pgf/number format/assume math mode=true},
  ylabel style={font=\labfont},
  ylabel={Ambient temp. (°C)},
]
\addplot[ctemp, line width=1.8pt] table[x=t,y=temp] {\tbltemp};
\end{axis}

% ===== Panel b =====
\begin{axis}[ymode=log, mypanel, logtick, at={(70pt,359pt)}, anchor=south west,
  ymin=550, ymax=1e5,
  ylabel={Saturation ratio},
  legend style={at={(1.099,0.327)}, row sep=1.6pt},
]
\allbands{1e1}{1e7}
\addplot[black, line width=1.2pt] coordinates {(20,5.1e4) (100,5.1e4)};
\addlegendentry{\lb{S\textsubscript{K} 1.0 nm\rule[-5pt]{0pt}{14pt}}}
\addplot[black!80, line width=1.0pt, dash pattern=on 7pt off 4pt] coordinates {(20,1.9e4) (100,1.9e4)};
\addlegendentry{\lb{S\textsubscript{K} 1.1 nm\rule[-5pt]{0pt}{14pt}}}
\addplot[black!80, line width=0.7pt, dotted] coordinates {(20,8.2e3) (100,8.2e3)};
\addlegendentry{\lb{S\textsubscript{K} 1.2 nm\rule[-5pt]{0pt}{14pt}}}
\addplot[cip0, line width=1.6pt] table[x=t,y=ip0] {\tblb};
\addlegendentry{\lb{IP 0N}}
\addplot[cip1, line width=1.6pt] table[x=t,y=ip1] {\tblb};
\addlegendentry{\lb{IP 1N}}
\addplot[cip2, line width=2pt] table[x=t,y=ip2] {\tblb};
\addlegendentry{\lb{IP 2N}}
\addplot[ctotb, line width=0.9pt, dash pattern=on 5pt off 3pt] table[x=t,y=tot] {\tblb};
\addlegendentry{\lb{IP tot}}
\end{axis}

% ===== Panel c =====
\begin{axis}[ymode=log, mypanel, logtick, at={(70pt,201pt)}, anchor=south west, height=151pt,
  ymin=100, ymax=1.6e5,
  ylabel={Part. conc. (cm\textsuperscript{-3})},
  legend style={at={(1.12,0.5)}, row sep=4pt},
]
\allbands{1e0}{1e7}
\addplot[cn2, line width=1.7pt] table[x=t,y=n2] {\tblc};
\addlegendentry{N\textsubscript{>2 nm}}
\addplot[cn3, line width=1.7pt] table[x=t,y=n3] {\tblc};
\addlegendentry{N\textsubscript{>3 nm}}
\addplot[cn4, line width=1.7pt] table[x=t,y=n4] {\tblc};
\addlegendentry{N\textsubscript{>4 nm}}
\addplot[cn5, line width=1.7pt] table[x=t,y=n5] {\tblc};
\addlegendentry{N\textsubscript{>5 nm}}
\end{axis}

% ===== Panel d =====
\begin{axis}[ymode=log, mypanel, logtick, at={(70pt,43pt)}, anchor=south west,
  ymin=1e-6, ymax=3.2e-2,
  ylabel={CS (s\textsuperscript{-1})},
  xticklabels={07:30,07:45,08:00,08:15,08:30},
  xticklabel style={yshift=-3pt, font=\fontsize{13.5}{15}\selectfont},
  legend style={at={(1.063,0.553)}, font=\fontsize{12.5}{14}\selectfont, row sep=9pt},
  legend image code/.code={\draw[#1] (0pt,0pt) -- (32pt,0pt);},
]
\allbands{1e-8}{1e0}
\addplot[black, line width=1.6pt] table[x=t,y=cs20] {\tbld};
\addlegendentry{CS max. 20 nm}
\addplot[black!50, line width=1.6pt] table[x=t,y=cs50] {\tbld};
\addlegendentry{CS max. 50 nm}
\addplot[black!25, line width=1.6pt] table[x=t,y=cs100] {\tbld};
\addlegendentry{CS max. 100 nm}
\end{axis}

% ===== texts =====
\node[font=\bfseries\fontsize{15}{16}\selectfont] at (326pt,678pt) {CAFE Brazil RF19 2023 01 23};
\node[font=\bfseries\fontsize{20}{20}\selectfont, anchor=west] at (-1pt,657pt) {a};
\node[font=\bfseries\fontsize{20}{20}\selectfont, anchor=west] at (-1pt,508pt) {b};
\node[font=\bfseries\fontsize{20}{20}\selectfont, anchor=west] at (-1pt,339pt) {c};
\node[font=\bfseries\fontsize{20}{20}\selectfont, anchor=west] at (-1pt,177pt) {d};
\node[font=\labfont] at (317pt,9pt) {Local time (hours)};
\node[font=\labfont, anchor=east] at (545pt,9pt) {Jan 23, 2023};
\end{tikzpicture}
\end{document}
